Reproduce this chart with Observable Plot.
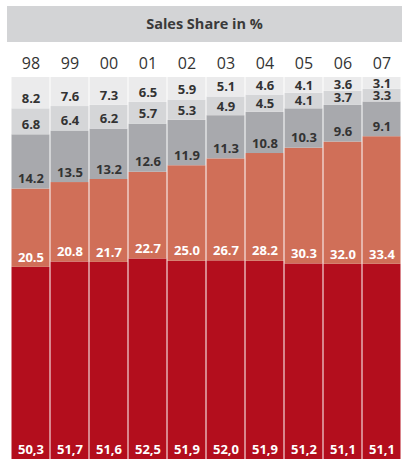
<!DOCTYPE html>
<html>
<head>
<meta charset="utf-8">
<script src="https://cdn.jsdelivr.net/npm/d3@7"></script>
<script src="https://cdn.jsdelivr.net/npm/@observablehq/plot@0.6"></script>
<style>
  html, body { margin: 0; padding: 0; background: #fff; overflow: hidden; }
  body { width: 402px; height: 459px; font-family: "Open Sans", sans-serif; }
  #banner {
    margin: 6px 0 0 7px; height: 36px; line-height: 36px; background: #d3d4d6;
    text-align: center; font-weight: 700; font-size: 14.5px; color: #3a3a3a;
  }
  #chart svg { display: block; }
</style>
</head>
<body>
<div id="banner">Sales Share in %</div>
<div id="chart"></div>
<script>
const years = ["98", "99", "00", "01", "02", "03", "04", "05", "06", "07"];

// Shares per year, stacked from the bottom up
const share1 = [50.3, 51.7, 51.6, 52.5, 51.9, 52.0, 51.9, 51.2, 51.1, 51.1];
const share2 = [20.5, 20.8, 21.7, 22.7, 25.0, 26.7, 28.2, 30.3, 32.0, 33.4];
const share3 = [14.2, 13.5, 13.2, 12.6, 11.9, 11.3, 10.8, 10.3, 9.6, 9.1];
const share4 = [6.8, 6.4, 6.2, 5.7, 5.3, 4.9, 4.5, 4.1, 3.7, 3.3];
const share5 = [8.2, 7.6, 7.3, 6.5, 5.9, 5.1, 4.6, 4.1, 3.6, 3.1];

const seriesValues = [share1, share2, share3, share4, share5];
const seriesFill = ["#b30e1d", "#d06f58", "#a8a9ad", "#d5d6d8", "#ebebec"];
const labelFill = ["#ffffff", "#ffffff", "#333333", "#333333", "#333333"];

const rows = [];
years.forEach((year, i) => {
  let base = 0;
  seriesValues.forEach((vals, s) => {
    const v = vals[i];
    rows.push({year, series: s, value: v, y1: base, y2: base + v});
    base += v;
  });
});

// Labels sit near the bottom of each segment, or centred when the segment is thin
const labelY = d => Math.min((d.y1 + d.y2) / 2, d.y1 + 2.6);
const labelText = d => d.series === 0 ? d.value.toFixed(1).replace(".", ",") : d.value.toFixed(1);

const chart = Plot.plot({
  width: 402,
  height: 417,
  marginTop: 35,
  marginBottom: 0,
  marginLeft: 7,
  marginRight: -3,
  style: {fontFamily: "Open Sans, sans-serif", background: "transparent", overflow: "hidden"},
  x: {domain: years, padding: 0, axis: "top", tickSize: 0, tickPadding: 9, label: null, fontSize: 16},
  y: {domain: [0, 100], axis: null},
  color: {type: "identity"},
  marks: [
    Plot.barY(rows, {
      x: "year", y1: "y1", y2: "y2",
      fill: d => seriesFill[d.series],
      insetLeft: 0.5, insetRight: 0.5, insetTop: 0, insetBottom: 0
    }),
    Plot.text(rows, {
      x: "year", y: labelY, text: labelText,
      fill: d => labelFill[d.series],
      fontWeight: "bold", fontSize: 13
    })
  ]
});
document.getElementById("chart").append(chart);
chart.querySelectorAll("g[aria-label='x-axis tick label'] text, g[aria-label='x-axis'] text").forEach(t => {
  t.setAttribute("font-size", "16");
  t.setAttribute("fill", "#333");
});
const axisG = chart.querySelector("g[aria-label='x-axis tick label']");
if (axisG) { axisG.setAttribute("font-size", "16"); axisG.setAttribute("fill", "#333"); }
</script>
</body>
</html>
